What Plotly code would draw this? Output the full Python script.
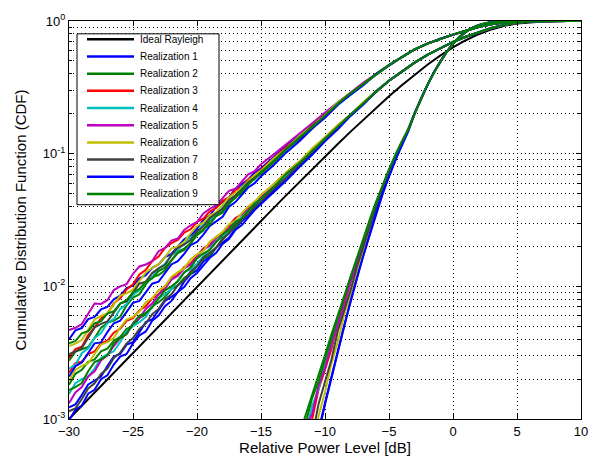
import plotly.graph_objects as go

# ---------------------------------------------------------------------------
# Power grids in dB
# ---------------------------------------------------------------------------
# ideal curve
x_db = [-30, -29, -28, -27, -26, -25, -24, -23, -22, -21, -20, -19, -18, -17,
        -16, -15, -14, -13, -12, -11, -10, -9, -8, -7, -6, -5, -4, -3, -2, -1,
        0, 1, 2, 3, 4, 5, 6, 7, 8, 9, 10]

# measured families A and B (half-dB steps in the deep-fade region)
x_db_ab = [-30, -29.5, -29, -28.5, -28, -27.5, -27, -26.5, -26, -25.5, -25,
           -24.5, -24, -23.5, -23, -22.5, -22, -21.5, -21, -20.5, -20, -19.5,
           -19, -18.5, -18, -17.5, -17, -16.5, -16, -15.5, -15, -14, -13, -12,
           -11, -10, -9, -8, -7, -6, -5, -4, -3, -2, -1, 0, 1, 2, 3, 4, 5, 6,
           7, 8, 9, 10]

# steep measured family C
x_db_c = [-12, -11.5, -11, -10.5, -10, -9.5, -9, -8.5, -8, -7.5, -7, -6.5, -6,
          -5.5, -5, -4.5, -4, -3.5, -3, -2.5, -2, -1.5, -1, -0.5, 0, 0.5, 1,
          1.5, 2, 2.5, 3, 3.5, 4, 4.5, 5, 6, 7, 8, 9, 10]

# ideal Rayleigh CDF on x_db
cdf_rayleigh = [9.995e-4, 1.258e-3, 1.584e-3, 1.993e-3, 2.509e-3, 3.157e-3,
                3.973e-3, 4.999e-3, 6.290e-3, 7.912e-3, 9.950e-3, 0.012510,
                0.015724, 0.019755, 0.024806, 0.031128, 0.039029, 0.048884,
                0.061146, 0.076360, 0.095163, 0.118290, 0.146569, 0.180881,
                0.222135, 0.271112, 0.328374, 0.394184, 0.467894, 0.548101,
                0.632121, 0.716039, 0.795061, 0.864031, 0.918893, 0.957692,
                0.981330, 0.993348, 0.998182, 0.999645, 0.999955]

# mean CDF of family A on x_db_ab
cdf_fam_a = [3.16e-3, 3.53e-3, 3.94e-3, 4.39e-3, 4.90e-3, 5.46e-3, 6.10e-3,
             6.79e-3, 7.59e-3, 8.45e-3, 9.44e-3, 1.047e-2, 1.161e-2, 1.288e-2,
             1.429e-2, 1.585e-2, 1.758e-2, 1.95e-2, 2.163e-2, 2.399e-2,
             2.661e-2, 2.951e-2, 3.273e-2, 3.631e-2, 4.027e-2, 4.467e-2,
             4.955e-2, 5.495e-2, 6.095e-2, 6.73e-2, 7.41e-2, 9.02e-2, 0.110,
             0.133, 0.162, 0.195, 0.238, 0.285, 0.335, 0.400, 0.465, 0.535,
             0.610, 0.675, 0.735, 0.790, 0.845, 0.900, 0.945, 0.975, 0.990,
             0.997, 0.999, 1.0, 1.0, 1.0]

# mean CDF of family B on x_db_ab
cdf_fam_b = [1.58e-3, 1.78e-3, 2.00e-3, 2.24e-3, 2.51e-3, 2.82e-3, 3.16e-3,
             3.55e-3, 3.98e-3, 4.47e-3, 5.01e-3, 5.62e-3, 6.31e-3, 7.08e-3,
             7.94e-3, 8.91e-3, 1.0e-2, 1.115e-2, 1.245e-2, 1.387e-2, 1.55e-2,
             1.726e-2, 1.93e-2, 2.148e-2, 2.40e-2, 2.673e-2, 2.99e-2,
             3.327e-2, 3.72e-2, 4.12e-2, 4.57e-2, 5.62e-2, 6.92e-2, 8.51e-2,
             0.105, 0.130, 0.160, 0.197, 0.240, 0.295, 0.355, 0.415, 0.485,
             0.555, 0.625, 0.695, 0.760, 0.825, 0.885, 0.935, 0.970, 0.990,
             0.997, 0.999, 1.0, 1.0]

# mean CDF of family C on x_db_c
cdf_fam_c = [3.5e-4, 5.5e-4, 8.5e-4, 1.30e-3, 2.0e-3, 3.0e-3, 4.5e-3, 6.7e-3,
             9.8e-3, 1.41e-2, 2.02e-2, 2.85e-2, 3.98e-2, 5.43e-2, 7.24e-2,
             9.44e-2, 0.120, 0.151, 0.2009, 0.2601, 0.3299, 0.4087, 0.495,
             0.5844, 0.6733, 0.7556, 0.8283, 0.8873, 0.9317, 0.9621, 0.9811,
             0.9916, 0.9967, 0.9988, 0.9997, 1.0, 1.0, 1.0, 1.0, 1.0]

# per-realization deviation from the family mean, in 1/100 decade
# families A and B: -30 ... -15 dB (0.5 dB steps) then -14 ... -6 dB
dev_a = [
    [10, 12, 9, 11, 8, 9, 6, 7, 5, 6, 3, 4, 2, 3, 1, 2, 0, 1, 2, 0, 1, 3, 2, 4, 3, 2, 4, 3, 2, 3, 2,
     2, 2, 1, 1, 1, 1, 0, 0, 0],
    [-6, -4, -7, -10, -8, -5, -6, -9, -11, -7, -6, -8, -5, -4, -7, -8, -5, -3, -5, -6, -4, -5, -2, -3, -5, -3, -2, -4, -2, -1, -2,
     -2, -1, -1, -2, -1, 0, -1, 0, 0],
    [-4, -2, -5, -1, 0, 2, 1, 4, 3, 5, 4, 7, 6, 8, 7, 9, 8, 6, 7, 5, 6, 4, 5, 3, 4, 2, 3, 1, 2, 1, 1,
     1, 1, 0, 1, 0, 0, 0, 0, 0],
    [-12, -14, -10, -11, -8, -9, -6, -8, -5, -6, -4, -5, -3, -4, -2, -3, -1, -2, 0, -1, -2, 0, -1, -2, -1, 0, -1, 1, 0, -1, 0,
     0, -1, 0, 0, -1, 0, 0, 0, 0],
    [17, 14, 12, 15, 18, 13, 11, 14, 12, 9, 12, 13, 10, 8, 11, 9, 10, 7, 9, 8, 6, 8, 7, 5, 6, 7, 4, 5, 6, 4, 5,
     4, 3, 3, 2, 2, 1, 1, 1, 0],
    [5, 2, 0, 3, 6, 4, 1, 3, 5, 2, 0, 2, 4, 3, 1, 2, 4, 1, 0, 2, 3, 1, 2, 0, 1, 2, 1, 0, 1, 1, 0,
     1, 0, 1, 0, 0, 1, 0, 0, 0],
    [-1, -4, -6, -3, 0, -2, -5, -3, -1, -4, -2, 0, -3, -1, -2, -4, -1, 0, -2, -3, -1, -2, 0, -1, -2, 0, -1, -1, 0, -1, -1,
     -1, 0, -1, 0, -1, 0, 0, 0, 0],
    [-18, -15, -17, -14, -12, -16, -13, -11, -14, -12, -10, -13, -11, -9, -12, -10, -8, -10, -9, -7, -9, -8, -6, -7, -8, -5, -6, -5, -4, -5, -4,
     -4, -3, -3, -2, -2, -1, -1, -1, 0],
    [7, 4, 5, 2, 3, 0, 1, -2, -1, -3, -2, -4, -3, -5, -4, -6, -5, -4, -6, -5, -3, -4, -5, -3, -4, -2, -3, -2, -1, -2, -1,
     -1, -1, 0, -1, 0, 0, 0, 0, 0],
]
dev_b = [
    [-11, -14, -12, -9, -11, -13, -10, -8, -11, -9, -12, -9, -7, -10, -8, -6, -8, -9, -6, -5, -7, -5, -6, -4, -5, -6, -4, -3, -4, -3, -3,
     -3, -2, -2, -2, -1, -1, -1, 0, 0],
    [6, 9, 7, 8, 5, 6, 3, 4, 2, 3, 0, 1, -1, 0, -2, -3, -2, -4, -3, -5, -4, -3, -5, -4, -3, -2, -3, -2, -1, -2, -1,
     -1, -1, -1, 0, -1, 0, 0, 0, 0],
    [15, 17, 13, 14, 11, 12, 9, 10, 8, 9, 6, 7, 5, 6, 4, 5, 6, 4, 5, 3, 4, 5, 3, 4, 2, 3, 4, 2, 3, 2, 2,
     2, 2, 1, 1, 1, 1, 0, 0, 0],
    [-1, 2, 0, -3, -2, 1, -1, -4, -2, 1, 0, -2, -3, 0, 1, -1, -2, 0, 1, -1, -2, -1, 0, 1, -1, 0, -1, 0, -1, 0, -1,
     0, -1, 0, 0, -1, 0, 0, 0, 0],
    [-8, -5, -6, -3, -4, -1, -2, 0, 1, -1, 2, 1, 3, 2, 4, 3, 5, 3, 4, 2, 3, 4, 2, 3, 2, 1, 3, 2, 1, 2, 1,
     1, 1, 0, 1, 0, 0, 0, 0, 0],
    [9, 12, 10, 7, 9, 11, 8, 6, 9, 10, 7, 6, 8, 6, 7, 5, 7, 6, 4, 6, 5, 3, 5, 4, 3, 4, 2, 3, 3, 2, 3,
     2, 2, 1, 2, 1, 1, 0, 1, 0],
    [-14, -17, -15, -12, -13, -11, -12, -9, -10, -8, -9, -7, -8, -6, -7, -5, -6, -4, -5, -3, -4, -2, -3, -4, -2, -3, -1, -2, -3, -1, -2,
     -1, -2, -1, -1, 0, -1, 0, 0, 0],
    [-21, -18, -20, -16, -18, -15, -17, -14, -13, -16, -13, -12, -14, -11, -12, -10, -11, -9, -10, -8, -9, -8, -7, -8, -6, -7, -5, -6, -5, -4, -4,
     -4, -4, -3, -3, -2, -2, -1, -1, 0],
    [2, -1, -3, 1, 3, 0, -2, 2, 1, -1, 2, 3, 0, -1, 1, 2, 0, -1, 1, 0, 2, 1, -1, 0, 1, 0, 1, -1, 0, 1, 0,
     0, 1, 0, 0, 0, 0, 0, 0, 0],
]
# family C: -12 ... -3.5 dB
dev_c = [
    [-28, -24, -26, -20, -18, -15, -14, -12, -10, -9, -7, -6, -5, -4, -3, -2, -2, -1],
    [34, 29, 25, 22, 18, 16, 13, 11, 9, 8, 6, 5, 4, 3, 2, 2, 1, 1],
    [10, 14, 7, 11, 7, 5, 6, 3, 4, 2, 3, 1, 2, 1, 1, 0, 1, 0],
    [22, 16, 17, 11, 12, 8, 7, 6, 4, 5, 3, 2, 2, 1, 1, 1, 0, 0],
    [14, 19, 11, 14, 8, 9, 6, 5, 5, 3, 2, 3, 1, 2, 1, 0, 0, 0],
    [-14, -9, -15, -9, -10, -6, -7, -4, -5, -3, -3, -2, -1, -1, -1, 0, 0, 0],
    [-4, 3, -6, 0, -2, -3, 1, -1, -2, 0, -1, 0, 0, -1, 0, 0, 0, 0],
    [-36, -31, -27, -22, -19, -17, -14, -13, -10, -8, -7, -5, -4, -3, -3, -2, -1, -1],
    [28, 23, 23, 17, 15, 13, 10, 9, 8, 6, 5, 4, 3, 2, 2, 1, 1, 0],
]

legend_names = ["Ideal Rayleigh"] + ["Realization %d" % k for k in range(1, 10)]
realization_colors = ["#0000FF", "#008000", "#FF0000", "#00BFBF", "#BF00BF",
                      "#BFBF00", "#404040", "#0000FF", "#008000"]
ideal_color = "#000000"


def realization(base, dev):
    """Family mean shifted by a realization's deviation (1/100 decade)."""
    d = dev + [0] * (len(base) - len(dev))
    return [min(1.0, b * 10 ** (v / 100.0)) for b, v in zip(base, d)]


fig = go.Figure()

fig.add_trace(go.Scatter(
    x=x_db, y=cdf_rayleigh, mode="lines", name=legend_names[0],
    showlegend=False, line=dict(color=ideal_color, width=2)))

for k in range(9):
    for xs, base, dev in ((x_db_ab, cdf_fam_a, dev_a[k]),
                          (x_db_ab, cdf_fam_b, dev_b[k]),
                          (x_db_c, cdf_fam_c, dev_c[k])):
        fig.add_trace(go.Scatter(
            x=xs, y=realization(base, dev), mode="lines",
            name=legend_names[k + 1], showlegend=False,
            line=dict(color=realization_colors[k], width=2)))

# ---------------------------------------------------------------------------
# Boxed legend in the upper-left corner of the axes (paper coordinates)
# ---------------------------------------------------------------------------
PLOT_L, PLOT_R, PLOT_T, PLOT_B = 69, 581, 16, 419


def px(xp):
    return (xp - PLOT_L) / (PLOT_R - PLOT_L)


def py(yp):
    return (PLOT_B - yp) / (PLOT_B - PLOT_T)


shapes = [dict(type="rect", xref="paper", yref="paper",
               x0=px(77), x1=px(219), y0=py(202), y1=py(29),
               line=dict(color="#000000", width=1), fillcolor="white",
               layer="above")]
annotations = []
entry_colors = [ideal_color] + realization_colors
for i, (name, col) in enumerate(zip(legend_names, entry_colors)):
    yc = 34.5 + 17.4 * i
    shapes.append(dict(type="line", xref="paper", yref="paper",
                       x0=px(87), x1=px(134), y0=py(yc), y1=py(yc),
                       line=dict(color=col, width=2.5), layer="above"))
    annotations.append(dict(xref="paper", yref="paper", x=px(138), y=py(yc),
                            xanchor="left", yanchor="middle", showarrow=False,
                            text=name, font=dict(size=10, color="#000000")))

grid_dash = "1px,3px"
minor_vals = [m * 10.0 ** e for e in (-3, -2, -1) for m in range(2, 10)]

fig.update_layout(
    width=601, height=468,
    margin=dict(l=PLOT_L, r=601 - PLOT_R, t=PLOT_T, b=468 - PLOT_B),
    paper_bgcolor="white", plot_bgcolor="white",
    font=dict(family="Liberation Sans, Arial, Helvetica, sans-serif",
              size=13, color="#000000"),
    showlegend=False,
    shapes=shapes,
    annotations=annotations,
    xaxis=dict(
        range=[-30, 10], tick0=-30, dtick=5, ticks="inside", ticklen=5,
        tickcolor="#000000", showline=True, linecolor="#000000", linewidth=1,
        mirror="ticks", zeroline=False, showgrid=True, gridcolor="#000000",
        gridwidth=1, griddash=grid_dash, tickfont=dict(size=13),
        title=dict(text="Relative Power Level [dB]", font=dict(size=15),
                   standoff=3)),
    yaxis=dict(
        type="log", range=[-3, 0], tickvals=[1e-3, 1e-2, 1e-1, 1],
        ticktext=["10<sup>-3</sup>", "10<sup>-2</sup>", "10<sup>-1</sup>",
                  "10<sup>0</sup>"],
        ticks="inside", ticklen=5, tickcolor="#000000", showline=True,
        linecolor="#000000", linewidth=1, mirror="ticks", zeroline=False,
        showgrid=True, gridcolor="#000000", gridwidth=1, griddash=grid_dash,
        tickfont=dict(size=13),
        minor=dict(tickvals=minor_vals, ticks="inside", ticklen=3,
                   tickcolor="#000000", showgrid=True, gridcolor="#000000",
                   gridwidth=1, griddash=grid_dash),
        title=dict(text="Cumulative Distribution Function (CDF)",
                   font=dict(size=15), standoff=12)),
)

fig.write_html("out.html")
